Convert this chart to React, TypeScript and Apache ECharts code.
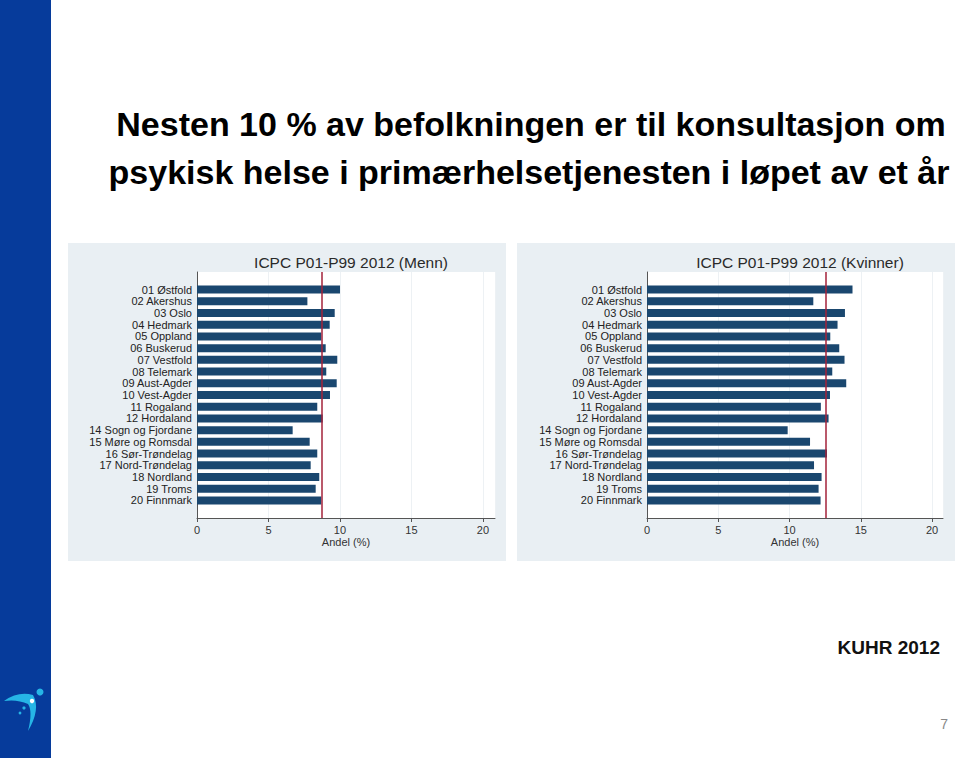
import React, { useEffect, useRef } from "react";
import * as echarts from "echarts";

const categories = [
  "01 Østfold", "02 Akershus", "03 Oslo", "04 Hedmark", "05 Oppland",
  "06 Buskerud", "07 Vestfold", "08 Telemark", "09 Aust-Agder", "10 Vest-Agder",
  "11 Rogaland", "12 Hordaland", "14 Sogn og Fjordane", "15 Møre og Romsdal",
  "16 Sør-Trøndelag", "17 Nord-Trøndelag", "18 Nordland", "19 Troms", "20 Finnmark",
];
const menn = [10.0, 7.72, 9.63, 9.28, 8.69, 9.0, 9.81, 9.04, 9.77, 9.3, 8.41, 8.79, 6.69, 7.88, 8.41, 7.95, 8.55, 8.3, 8.69];
const kvinner = [14.42, 11.67, 13.89, 13.37, 12.86, 13.49, 13.86, 13.0, 13.98, 12.84, 12.2, 12.74, 9.87, 11.44, 12.63, 11.72, 12.25, 12.04, 12.18];
const avgMenn = 8.74;
const avgKvinner = 12.56;
const xTicks = [0, 5, 10, 15, 20];

const FONT = "Liberation Sans, Arial, sans-serif";

echarts.graphic.registerShape(
  "logo",
  echarts.graphic.extendPath("M 0 8 Q 14 -2 29 2 Q 37 16 24 38 Q 29 18 24 11 Q 13 6 0 8 Z", {})
);

export default function App() {
  const ref = useRef<HTMLDivElement>(null);
  useEffect(() => {
    if (!ref.current) return;
    const chart = echarts.init(ref.current, undefined, { renderer: "svg" });
    const paddedCats = [" ", ...categories, "  "];
    const pad = (a: number[]) => ["-", ...a, "-"];

    const panels = [
      { left: 197, width: 298, max: 20.84, data: menn, avg: avgMenn, title: "ICPC P01-P99 2012 (Menn)", cx: 346 },
      { left: 647, width: 296, max: 20.77, data: kvinner, avg: avgKvinner, title: "ICPC P01-P99 2012 (Kvinner)", cx: 795 },
    ];

    chart.setOption({
      animation: false,
      backgroundColor: "#ffffff",
      title: panels.map((p) => ({
        text: p.title,
        left: p.cx,
        top: 249,
        textAlign: "center",
        textStyle: { fontFamily: FONT, fontSize: 15.5, fontWeight: "normal", color: "#2a2a2a" },
      })),
      grid: panels.map((p) => ({
        left: p.left,
        top: 272,
        width: p.width,
        height: 246,
        show: true,
        backgroundColor: "#ffffff",
        borderWidth: 0,
        containLabel: false,
      })),
      xAxis: panels.map((p, i) => ({
        type: "value",
        gridIndex: i,
        min: 0,
        max: p.max,
        interval: 5,
        name: "Andel (%)",
        nameLocation: "middle",
        nameGap: 18,
        nameTextStyle: { fontFamily: FONT, fontSize: 11, color: "#333" },
        axisLine: { show: true, lineStyle: { color: "#555", width: 1 } },
        axisTick: { show: true, length: 4, lineStyle: { color: "#555" } },
        axisLabel: {
          fontFamily: FONT,
          fontSize: 11,
          color: "#333",
          margin: 6,
          showMaxLabel: false,
          formatter: (v: number) => (xTicks.includes(v) ? String(v) : ""),
        },
        splitLine: { show: true, lineStyle: { color: "#edf1f4", width: 1 } },
      })),
      yAxis: panels.map((_, i) => ({
        type: "category",
        gridIndex: i,
        inverse: true,
        data: paddedCats,
        axisLine: { show: true, lineStyle: { color: "#555", width: 1 } },
        axisTick: { show: false },
        axisLabel: { fontFamily: FONT, fontSize: 11, color: "#222", margin: 5, interval: 0 },
        splitLine: { show: false },
      })),
      series: panels.map((p, i) => ({
        type: "bar",
        xAxisIndex: i,
        yAxisIndex: i,
        data: pad(p.data),
        barWidth: 8,
        itemStyle: { color: "#1a476f" },
        markLine: {
          silent: true,
          symbol: "none",
          label: { show: false },
          lineStyle: { color: "#a3223a", width: 1.5, type: "solid" },
          data: [{ xAxis: p.avg }],
        },
      })),
      graphic: [
        { type: "rect", z: -10, shape: { x: 0, y: 0, width: 51, height: 758 }, style: { fill: "#063b9b" } },
        { type: "rect", z: -10, shape: { x: 68, y: 243, width: 438, height: 318 }, style: { fill: "#e9eff3" } },
        { type: "rect", z: -10, shape: { x: 517, y: 243, width: 438, height: 318 }, style: { fill: "#e9eff3" } },
        {
          type: "text",
          x: 531,
          y: 124,
          style: {
            text: "Nesten 10 % av befolkningen er til konsultasjon om",
            font: `bold 34px ${FONT}`,
            fill: "#000",
            align: "center",
            verticalAlign: "middle",
          },
        },
        {
          type: "text",
          x: 529,
          y: 172,
          style: {
            text: "psykisk helse i primærhelsetjenesten i løpet av et år",
            font: `bold 34px ${FONT}`,
            fill: "#000",
            align: "center",
            verticalAlign: "middle",
          },
        },
        {
          type: "text",
          x: 940,
          y: 647,
          style: { text: "KUHR 2012", font: `bold 19px ${FONT}`, fill: "#111", align: "right", verticalAlign: "middle" },
        },
        {
          type: "text",
          x: 948,
          y: 724,
          style: { text: "7", font: `14px ${FONT}`, fill: "#888", align: "right", verticalAlign: "middle" },
        },
        { type: "logo", x: 4, y: 693, style: { fill: "#26b5e6" } },
        { type: "circle", shape: { cx: 40, cy: 692, r: 3.5 }, style: { fill: "#26b5e6" } },
        { type: "circle", shape: { cx: 32, cy: 701, r: 2.2 }, style: { fill: "#ffffff" } },
        { type: "circle", shape: { cx: 24, cy: 708, r: 1.6 }, style: { fill: "#26b5e6" } },
        { type: "circle", shape: { cx: 20, cy: 713, r: 1.4 }, style: { fill: "#26b5e6" } },
      ],
    });
    return () => chart.dispose();
  }, []);
  return (
    <div
      ref={ref}
      style={{ position: "fixed", left: 0, top: 0, width: 959, height: 758, background: "#fff" }}
    />
  );
}
